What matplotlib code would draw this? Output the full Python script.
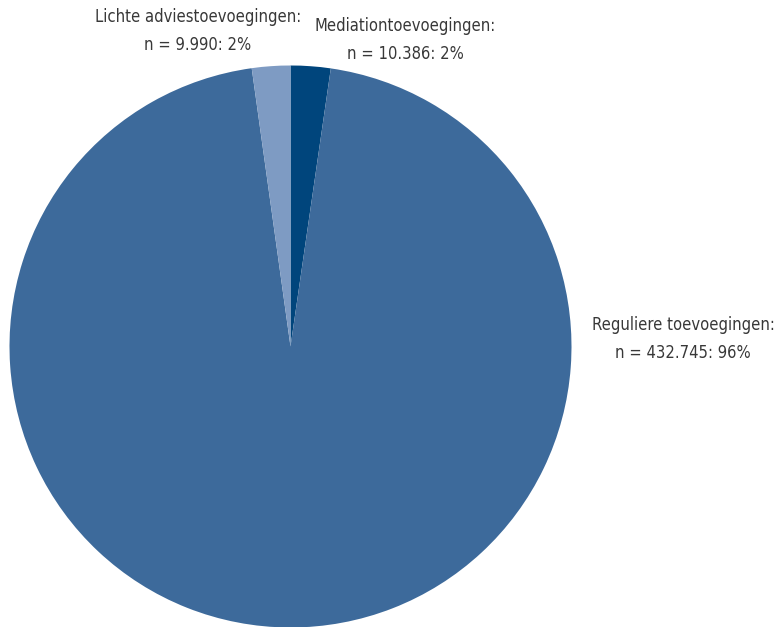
import matplotlib.pyplot as plt

labels = ['Mediationtoevoegingen', 'Reguliere toevoegingen', 'Lichte adviestoevoegingen']
counts = [10386, 432745, 9990]
count_text = ['10.386', '432.745', '9.990']
percent_text = ['2%', '96%', '2%']
colors = ['#00457C', '#3D6A9B', '#7E9BC3']

W, H = 781, 627
fig = plt.figure(figsize=(W / 100, H / 100), dpi=100)
ax = fig.add_axes([0, 0, 1, 1])

cx, cy, r = 290.5, H - 346.5, 281
ax.pie(counts, colors=colors, startangle=90, counterclock=False,
       center=(cx, cy), radius=r, frame=True,
       wedgeprops=dict(linewidth=0))
ax.set_xlim(0, W)
ax.set_ylim(0, H)
ax.set_aspect('equal')
ax.axis('off')

# label positions (x, y of label block centre)
label_pos = [(405, H - 40), (683, H - 339), (198, H - 31)]
for name, n, p, (x, y) in zip(labels, count_text, percent_text, label_pos):
    ax.text(x, y, f'{name}:\nn = {n}: {p}', ha='center', va='center',
            fontsize=11.9, family='DejaVu Sans', fontstretch='condensed',
            color='#383838', linespacing=1.7)

fig.savefig('out.png', dpi=100)
